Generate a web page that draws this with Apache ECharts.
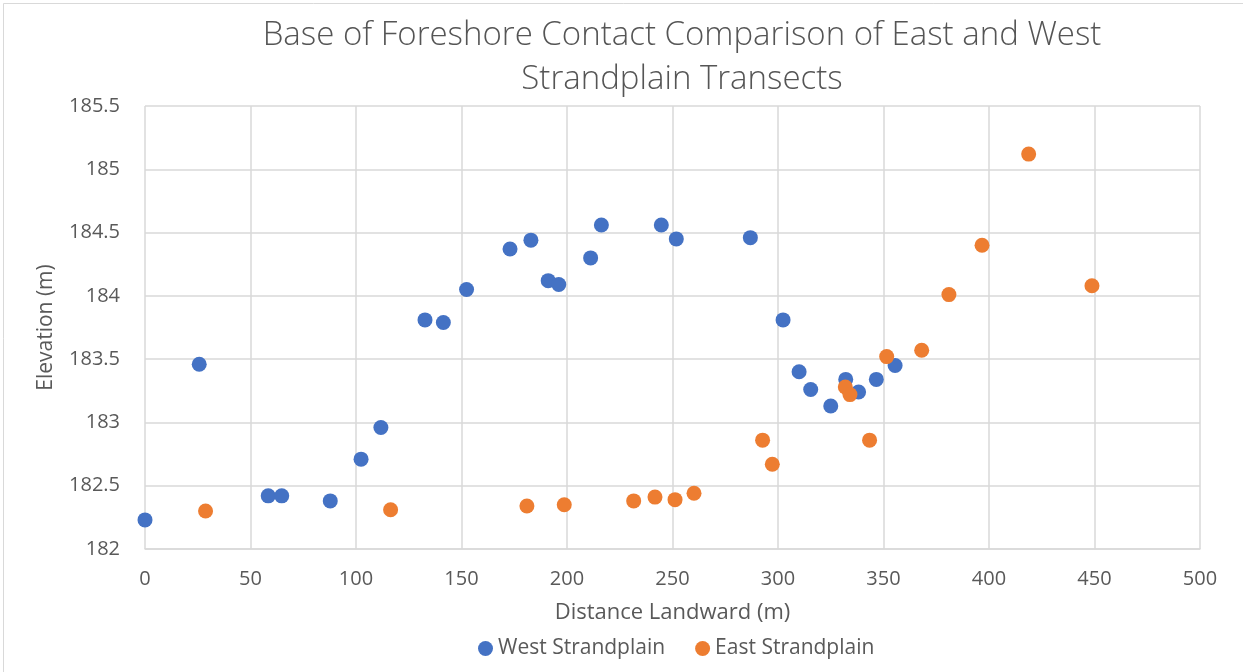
<!DOCTYPE html>
<html>
<head>
<meta charset="utf-8">
<script src="https://cdn.jsdelivr.net/npm/echarts@6/dist/echarts.min.js"></script>
<style>html,body{margin:0;padding:0;background:#fff}#c{width:1243px;height:672px}</style>
</head>
<body>
<div id="c"></div>
<script>
const westX = [0, 25.7, 58.4, 64.8, 87.8, 102.4, 111.8, 132.7, 141.4, 152.4, 173, 182.9, 191.1, 196.1, 211.2, 216.3, 244.7, 251.8, 286.9, 302.4, 310, 315.5, 325, 332.1, 338.2, 346.6, 355.5];
const westY = [182.23, 183.46, 182.42, 182.42, 182.38, 182.71, 182.96, 183.81, 183.79, 184.05, 184.37, 184.44, 184.12, 184.09, 184.30, 184.56, 184.56, 184.45, 184.46, 183.81, 183.40, 183.26, 183.13, 183.34, 183.24, 183.34, 183.45];
const eastX = [28.7, 116.4, 181, 198.7, 231.6, 241.7, 251.2, 260.2, 292.7, 297.3, 331.9, 334.1, 343.4, 351.5, 368.1, 381, 396.7, 418.8, 448.8];
const eastY = [182.30, 182.31, 182.34, 182.35, 182.38, 182.41, 182.39, 182.44, 182.86, 182.67, 183.28, 183.22, 182.86, 183.52, 183.57, 184.01, 184.40, 185.12, 184.08];
const seriesNames = ['West Strandplain', 'East Strandplain'];
const titleLines = ['Base of Foreshore Contact Comparison of East and West', 'Strandplain Transects'];

const FONT = '"Open Sans", sans-serif';
const TXT = '#595959';
const chart = echarts.init(document.getElementById('c'), null, {renderer: 'canvas'});
chart.setOption({
  animation: false,
  backgroundColor: '#fff',
  title: {
    text: titleLines.join('\n'),
    left: 677, top: 9, textAlign: 'center',
    textStyle: {fontFamily: FONT, fontSize: 33, fontWeight: 300, color: '#555555', lineHeight: 44}
  },
  legend: {
    data: seriesNames, top: 633, left: 473, itemGap: 30,
    icon: 'circle', itemWidth: 15, itemHeight: 15,
    textStyle: {fontFamily: FONT, fontSize: 21, color: TXT}
  },
  grid: {left: 145, right: 43, top: 106, bottom: 123, containLabel: false},
  xAxis: {
    type: 'value', min: 0, max: 500, interval: 50,
    name: 'Distance Landward (m)', nameLocation: 'middle', nameGap: 53,
    nameTextStyle: {fontFamily: FONT, fontSize: 22, color: TXT},
    axisLine: {show: true, lineStyle: {color: '#d9d9d9', width: 1.5}},
    axisTick: {show: false},
    axisLabel: {fontFamily: FONT, fontSize: 20, color: TXT, margin: 20},
    splitLine: {show: true, lineStyle: {color: '#d9d9d9', width: 1.5}}
  },
  yAxis: {
    type: 'value', min: 182, max: 185.5, interval: 0.5,
    name: 'Elevation (m)', nameLocation: 'middle', nameGap: 88, nameRotate: 90,
    nameTextStyle: {fontFamily: FONT, fontSize: 21, color: TXT},
    axisLine: {show: false},
    axisTick: {show: false},
    axisLabel: {fontFamily: FONT, fontSize: 20, color: TXT, margin: 25},
    splitLine: {show: true, lineStyle: {color: '#d9d9d9', width: 1.5}}
  },
  series: [
    {name: seriesNames[0], type: 'scatter', symbolSize: 15, itemStyle: {color: '#4472C4', opacity: 1},
     data: westX.map((x, i) => [x, westY[i]])},
    {name: seriesNames[1], type: 'scatter', symbolSize: 15, itemStyle: {color: '#ED7D31', opacity: 1},
     data: eastX.map((x, i) => [x, eastY[i]])}
  ],
  graphic: [{type: 'rect', shape: {x: 3.5, y: 3.5, width: 1250, height: 680}, style: {fill: 'none', stroke: '#d9d9d9', lineWidth: 1}, silent: true}]
});
</script>
</body>
</html>
